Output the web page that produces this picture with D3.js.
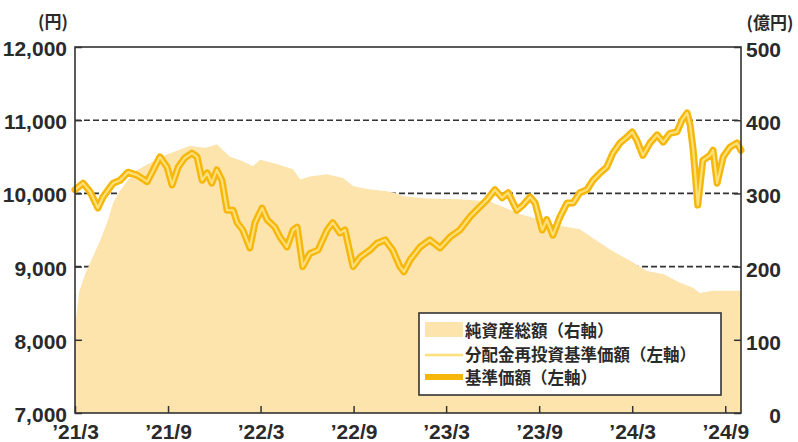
<!DOCTYPE html>
<html>
<head>
<meta charset="utf-8">
<script src="https://cdn.jsdelivr.net/npm/d3@7"></script>
<style>
  body { margin: 0; background: #fff; }
  svg { display: block; }
  .num { font-family: "Liberation Sans Narrow", "Arial Narrow", "Liberation Sans", sans-serif; font-weight: bold; font-size: 21px; fill: #2a2a2a; }
  .jp { font-family: "Noto Sans CJK JP", sans-serif; font-weight: bold; fill: #2a2a2a; }
</style>
</head>
<body>
<svg id="chart" width="798" height="442"></svg>
<script>
// 基準価額 (円) — 分配金再投資基準価額 is identical (no distributions)
const priceDates = [
  '2021-03-31','2021-04-16','2021-04-30','2021-05-15','2021-05-25','2021-06-14','2021-06-28','2021-07-13',
  '2021-07-31','2021-08-20','2021-08-29','2021-09-14','2021-09-28','2021-10-08','2021-10-20','2021-11-02',
  '2021-11-16','2021-11-26','2021-12-06','2021-12-16','2021-12-25','2022-01-04','2022-01-14','2022-01-24',
  '2022-02-05','2022-02-13','2022-02-24','2022-03-10','2022-03-20','2022-04-03','2022-04-13','2022-04-28',
  '2022-05-08','2022-05-22','2022-06-03','2022-06-11','2022-06-22','2022-07-06','2022-07-22','2022-08-09',
  '2022-08-20','2022-09-03','2022-09-13','2022-09-29','2022-10-13','2022-11-01','2022-11-15','2022-12-01',
  '2022-12-16','2022-12-30','2023-01-07','2023-01-19','2023-02-08','2023-02-27','2023-03-19','2023-04-08',
  '2023-04-27','2023-05-17','2023-06-06','2023-06-19','2023-07-05','2023-07-19','2023-07-31','2023-08-17',
  '2023-08-29','2023-09-12','2023-09-22','2023-10-06','2023-10-15','2023-10-27','2023-11-10','2023-11-24',
  '2023-12-06','2023-12-19','2024-01-02','2024-01-14','2024-01-28','2024-02-10','2024-02-22','2024-03-07',
  '2024-03-21','2024-03-31','2024-04-09','2024-04-21','2024-05-05','2024-05-19','2024-05-31','2024-06-13',
  '2024-06-27','2024-07-07','2024-07-17','2024-07-23','2024-07-29','2024-08-07','2024-08-17','2024-08-31',
  '2024-09-06','2024-09-14','2024-09-26','2024-10-09','2024-10-23','2024-10-31'
]
const basePrice = [
  10050,10140,10020,9800,9950,10140,10180,10290,
  10250,10160,10280,10500,10360,10115,10360,10485,
  10550,10500,10180,10280,10140,10320,10180,9770,
  9770,9600,9500,9255,9600,9800,9640,9540,
  9405,9270,9500,9540,9000,9180,9225,9500,
  9600,9460,9500,9000,9130,9225,9320,9365,
  9225,9000,8930,9090,9270,9365,9255,9405,
  9500,9680,9820,9910,10050,9940,10010,9770,
  9840,9950,9870,9500,9640,9430,9680,9870,
  9870,10010,10050,10180,10280,10360,10550,10690,
  10770,10840,10730,10520,10690,10800,10700,10820,
  10840,11000,11100,10930,10590,9840,10450,10520,
  10590,10140,10500,10630,10690,10590
]
const reinvestPrice = basePrice

// 純資産総額 (億円)
const assetDates = [
  '2021-03-31','2021-04-08','2021-04-20','2021-05-03','2021-05-19','2021-06-02','2021-06-14','2021-06-24',
  '2021-07-07','2021-07-27','2021-08-16','2021-09-04','2021-09-24','2021-10-24','2021-11-12','2021-12-12',
  '2022-01-04','2022-01-30','2022-02-24','2022-03-16','2022-03-30','2022-05-02','2022-06-03','2022-06-17',
  '2022-07-06','2022-08-09','2022-09-09','2022-09-29','2022-10-26','2022-12-05','2022-12-24','2023-01-05',
  '2023-02-21','2023-04-27','2023-06-25','2023-08-23','2023-10-02','2023-10-27','2023-12-19','2024-01-22',
  '2024-02-22','2024-03-27','2024-04-29','2024-05-31','2024-07-03','2024-07-29','2024-08-11','2024-09-06',
  '2024-10-31'
]
const netAssets = [
  115,165,190,210,235,260,287,300,
  313,330,338,345,352,360,365,362,
  367,350,344,337,346,340,333,319,
  323,326,321,310,306,303,300,296,
  293,292,289,272,264,258,251,235,
  221,208,194,190,178,171,164,167,
  167
]

const leftTicks = [7000, 8000, 9000, 10000, 11000, 12000]
const rightTicks = [0, 100, 200, 300, 400, 500]
const gridValues = [8000, 9000, 10000, 11000]
const xTickDates = ['2021-03-31','2021-09-30','2022-03-31','2022-09-30','2023-03-31','2023-09-30','2024-03-31','2024-09-30']
const xTickLabels = ['’21/3','’21/9','’22/3','’22/9','’23/3','’23/9','’24/3','’24/9']
const legendLabels = ['純資産総額（右軸）', '分配金再投資基準価額（左軸）', '基準価額（左軸）']

const parse = d3.timeParse('%Y-%m-%d')
const L = 75, R = 741, T = 47, B = 413
const areaColor = '#fde4ad', lineColor = '#f6b70a', innerColor = '#fde07a'

const svg = d3.select('#chart')

const x = d3.scaleTime().domain([parse('2021-03-31'), parse('2024-10-31')]).range([L, R])
const y = d3.scaleLinear().domain([7000, 12000]).range([B, T])
const y2 = d3.scaleLinear().domain([0, 500]).range([B, T])

const prices = priceDates.map((d, i) => ({ date: parse(d), base: basePrice[i], reinvest: reinvestPrice[i] }))
const assets = assetDates.map((d, i) => ({ date: parse(d), value: netAssets[i] }))

// grid (behind area)
svg.append('g').selectAll('line').data(gridValues).join('line')
  .attr('x1', L).attr('x2', R)
  .attr('y1', d => y(d)).attr('y2', d => y(d))
  .attr('stroke', '#333').attr('stroke-width', 1.6).attr('stroke-dasharray', '6,3')

// net assets area
svg.append('path').datum(assets)
  .attr('fill', areaColor)
  .attr('d', d3.area().x(d => x(d.date)).y0(y2(0)).y1(d => y2(d.value)))

// base price (thick) + reinvested (thin, light) on top
svg.append('path').datum(prices)
  .attr('fill', 'none').attr('stroke', lineColor).attr('stroke-width', 7)
  .attr('stroke-linejoin', 'round').attr('stroke-linecap', 'round')
  .attr('d', d3.line().x(d => x(d.date)).y(d => y(d.base)))
svg.append('path').datum(prices)
  .attr('fill', 'none').attr('stroke', innerColor).attr('stroke-width', 2.2)
  .attr('stroke-linejoin', 'round')
  .attr('d', d3.line().x(d => x(d.date)).y(d => y(d.reinvest)))

// axes
const gl = svg.append('g').attr('transform', `translate(${L},0)`)
  .call(d3.axisLeft(y).tickValues(leftTicks).tickSize(-7).tickPadding(8).tickFormat(d3.format(',')))
gl.select('.domain').remove()
gl.selectAll('line').attr('stroke', '#333').attr('stroke-width', 1.5)
gl.selectAll('text').attr('class', 'num').attr('dy', '0.4em')

const gr = svg.append('g').attr('transform', `translate(${R},0)`)
  .call(d3.axisRight(y2).tickValues(rightTicks).tickSize(-7))
gr.select('.domain').remove()
gr.selectAll('line').attr('stroke', '#333').attr('stroke-width', 1.5)
gr.selectAll('text').attr('class', 'num').attr('text-anchor', 'end').attr('x', 40).attr('dy', '0.45em')

const gb = svg.append('g').attr('transform', `translate(0,${B})`)
  .call(d3.axisBottom(x).tickValues(xTickDates.map(parse)).tickSize(-7)
    .tickFormat((d, i) => xTickLabels[i]))
gb.select('.domain').remove()
gb.selectAll('line').attr('stroke', '#333').attr('stroke-width', 1.5)
gb.selectAll('text').attr('class', 'num').attr('y', 26).attr('dy', 0)

// frame
svg.append('rect').attr('x', L).attr('y', T).attr('width', R - L).attr('height', B - T)
  .attr('fill', 'none').attr('stroke', '#333').attr('stroke-width', 1.6)

// unit labels
svg.append('text').attr('class', 'jp').attr('x', 53).attr('y', 28).attr('font-size', 17)
  .attr('text-anchor', 'middle').text('(円)')
svg.append('text').attr('class', 'jp').attr('x', 770).attr('y', 29).attr('font-size', 17)
  .attr('text-anchor', 'middle').text('(億円)')

// legend
const lg = svg.append('g')
lg.append('rect').attr('x', 419).attr('y', 313).attr('width', 302).attr('height', 82)
  .attr('fill', '#fff').attr('stroke', '#333').attr('stroke-width', 1.6)
lg.append('rect').attr('x', 425).attr('y', 322).attr('width', 38).attr('height', 15).attr('fill', areaColor)
lg.append('line').attr('x1', 425).attr('x2', 463).attr('y1', 355).attr('y2', 355)
  .attr('stroke', innerColor).attr('stroke-width', 2.5)
lg.append('line').attr('x1', 425).attr('x2', 463).attr('y1', 377).attr('y2', 377)
  .attr('stroke', lineColor).attr('stroke-width', 6)
lg.selectAll('text.item').data(legendLabels).join('text')
  .attr('class', 'jp item').attr('font-size', 16.5)
  .attr('x', 465).attr('y', (d, i) => [331, 355, 378][i]).attr('dy', '0.35em')
  .text(d => d)
</script>
</body>
</html>
